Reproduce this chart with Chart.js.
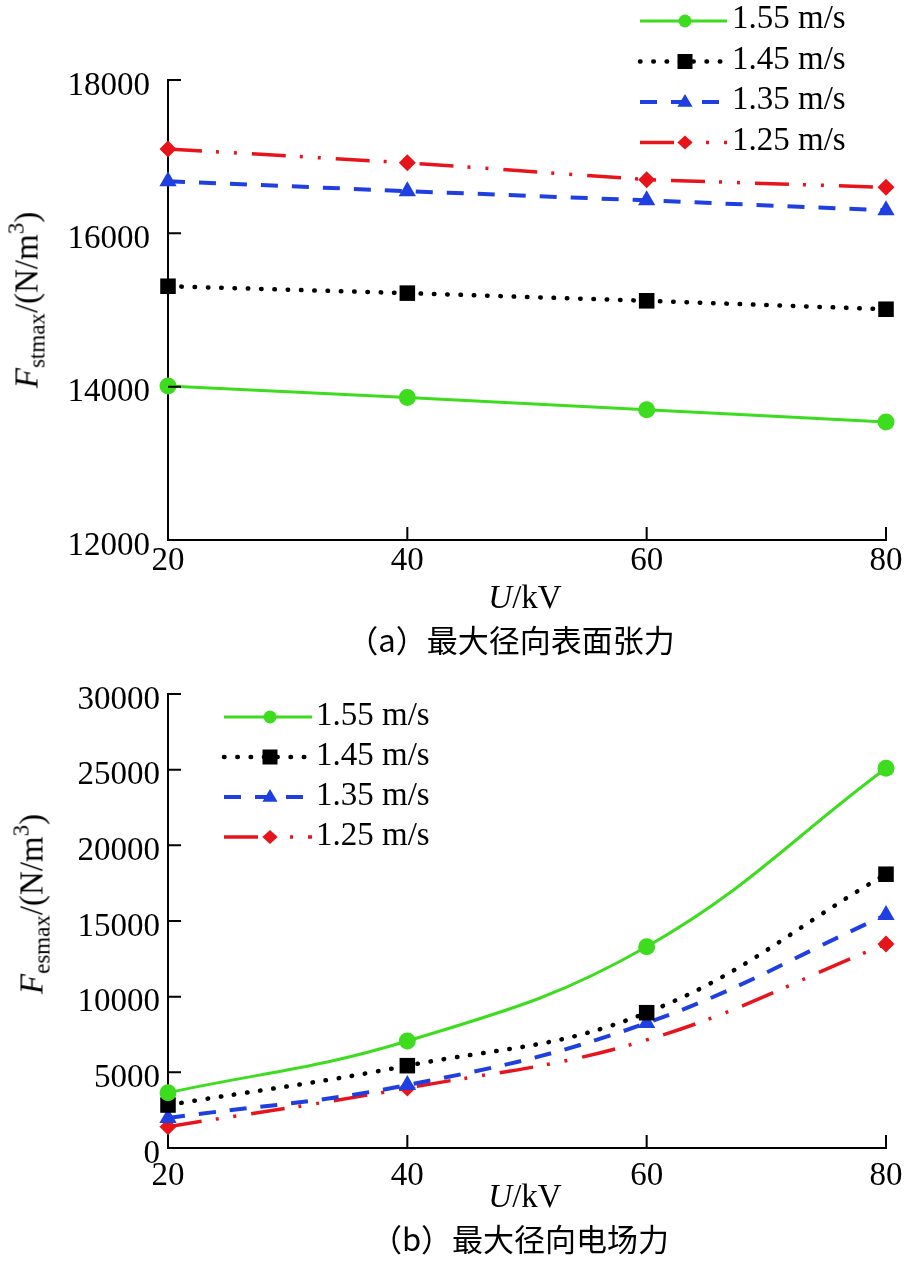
<!DOCTYPE html>
<html><head><meta charset="utf-8">
<script src="https://cdn.jsdelivr.net/npm/chart.js@4"></script>
<style>
html,body{margin:0;padding:0;background:#fff;}
body{width:918px;height:1262px;position:relative;overflow:hidden;font-family:"Liberation Serif",serif;color:#000;}
.c{position:absolute;left:0;width:918px;}
#w1{top:0;height:600px}
#w2{top:640px;height:560px}
.ytitle{position:absolute;transform:translate(-50%,-50%) rotate(-90deg);white-space:nowrap;font-size:33px;line-height:1;}
.xtitle{position:absolute;transform:translate(-50%,-50%);font-size:33px;white-space:nowrap;line-height:1;}
.cap{position:absolute;transform:translate(-50%,-50%);font-size:31px;font-family:"Noto Sans CJK SC",sans-serif;white-space:nowrap;line-height:1;}
.sb{font-size:23px;position:relative;top:7px;}
.sp{font-size:23px;position:relative;top:-14px;}
</style>
</head><body>
<div class="c" id="w1"><canvas id="c1"></canvas></div>
<div class="c" id="w2"><canvas id="c2"></canvas></div>
<div class="ytitle" style="left:27px;top:300px"><i>F</i><span class="sb">stmax</span>/(N/m<span class="sp">3</span>)</div>
<div class="ytitle" style="left:32px;top:904px"><i>F</i><span class="sb">esmax</span>/(N/m<span class="sp">3</span>)</div>
<div class="xtitle" style="left:525px;top:597px"><i>U</i>/kV</div>
<div class="cap" style="left:511px;top:638px">（a）最大径向表面张力</div>
<div class="xtitle" style="left:525px;top:1196px"><i>U</i>/kV</div>
<div class="cap" style="left:520px;top:1237px">（b）最大径向电场力</div>
<script>
// ---- data ----
const voltages = [20, 40, 60, 80];
const seriesLabels = ['1.55 m/s', '1.45 m/s', '1.35 m/s', '1.25 m/s'];
const surf155 = [14010, 13860, 13700, 13540];
const surf145 = [15310, 15220, 15120, 15010];
const surf135 = [16680, 16550, 16430, 16300];
const surf125 = [17100, 16920, 16700, 16600];
const elec155 = [3650, 7070, 13300, 25090];
const elec145 = [2840, 5440, 8940, 18090];
const elec135 = [1980, 4160, 8260, 15400];
const elec125 = [1410, 3960, 7140, 13480];
const surfTicks = [12000, 14000, 16000, 18000];
const elecTicks = [0, 5000, 10000, 15000, 20000, 25000, 30000];
const xTicks = [20, 40, 60, 80];

// ---- styles ----
const styles = [
  {color:'#3ddc1f', dash:[], width:3, cap:'butt', point:'circle', r:8.5, lr:6.5},
  {color:'#000000', dash:[0.5,12.8], width:4.5, cap:'round', point:'rect', r:11, lr:7.5},
  {color:'#1f3fe0', dash:[17,14], width:4, cap:'butt', point:'triangle', r:10, lr:8},
  {color:'#e8141c', dash:[34,14,3,15,3,15], width:3.5, cap:'butt', point:'rectRot', r:8.5, lr:7}
];

function makeDatasets(series, tension, hidden) {
  return series.map((vals, i) => {
    const s = styles[i];
    return {
      label: seriesLabels[i],
      data: voltages.map((v, k) => ({x: v, y: vals[k]})),
      borderColor: s.color, backgroundColor: s.color,
      pointBackgroundColor: s.color, pointBorderColor: s.color,
      borderWidth: s.width, borderDash: s.dash, borderCapStyle: s.cap,
      pointStyle: s.point,
      pointRadius: (hidden && hidden[i]) ? hidden[i].map(h => h ? 0 : s.r) : s.r,
      pointBorderWidth: 0,
      tension: tension, cubicInterpolationMode: 'default',
      clip: false, legendR: s.lr
    };
  });
}

function drawMark(ctx, style, r, x, y) {
  ctx.beginPath();
  if (style === 'circle') ctx.arc(x, y, r, 0, Math.PI * 2);
  else if (style === 'rect') ctx.rect(x - r, y - r, 2 * r, 2 * r);
  else if (style === 'triangle') { ctx.moveTo(x, y - r); ctx.lineTo(x + r * 0.95, y + r * 0.6); ctx.lineTo(x - r * 0.95, y + r * 0.6); ctx.closePath(); }
  else if (style === 'rectRot') { ctx.moveTo(x - r * 1.1, y); ctx.lineTo(x, y - r); ctx.lineTo(x + r * 1.1, y); ctx.lineTo(x, y + r); ctx.closePath(); }
  ctx.fill();
}

const lineLegend = {
  id: 'lineLegend',
  afterDraw(chart, args, o) {
    const {ctx, chartArea: a} = chart;
    const x0 = (o.fromRight ? a.right : a.left) + o.dx;
    const y0 = a.top + o.dy;
    chart.data.datasets.forEach((ds, i) => {
      const y = y0 + i * o.gap;
      ctx.save();
      ctx.strokeStyle = ds.borderColor; ctx.lineWidth = ds.borderWidth;
      ctx.setLineDash(ds.borderDash || []); ctx.lineCap = ds.borderCapStyle || 'butt';
      ctx.beginPath(); ctx.moveTo(x0, y); ctx.lineTo(x0 + o.len, y); ctx.stroke();
      ctx.setLineDash([]);
      ctx.fillStyle = ds.borderColor;
      drawMark(ctx, ds.pointStyle, ds.legendR, x0 + o.mark, y);
      ctx.fillStyle = '#000';
      ctx.font = '33px "Liberation Serif"';
      ctx.textBaseline = 'alphabetic'; ctx.textAlign = 'left';
      ctx.fillText(ds.label, x0 + o.textX, y + o.base);
      ctx.restore();
    });
  }
};

const inwardTicks = {
  id: 'inwardTicks',
  afterDatasetsDraw(chart, args, o) {
    const {ctx, chartArea: a, scales: {x, y}} = chart;
    ctx.save(); ctx.strokeStyle = '#000'; ctx.lineWidth = 2;
    ctx.beginPath();
    x.ticks.forEach(t => { const px = x.getPixelForValue(t.value); ctx.moveTo(px, a.bottom); ctx.lineTo(px, a.bottom - o.len); });
    y.ticks.forEach(t => { const py = y.getPixelForValue(t.value); ctx.moveTo(a.left, py); ctx.lineTo(a.left + o.len, py); });
    ctx.stroke(); ctx.restore();
  }
};

function makeChart(id, datasets, yTicks, cfg) {
  return new Chart(document.getElementById(id), {
    type: 'line',
    data: {datasets},
    plugins: [inwardTicks, lineLegend],
    options: {
      responsive: true, maintainAspectRatio: false, animation: false,
      layout: {padding: {top: cfg.padTop, right: cfg.padRight, left: 0, bottom: 0}},
      plugins: {legend: {display: false}, tooltip: {enabled: false},
        inwardTicks: {len: 13}, lineLegend: cfg.legend},
      scales: {
        x: {
          type: 'linear', min: xTicks[0], max: xTicks[xTicks.length - 1],
          afterBuildTicks: s => { s.ticks = xTicks.map(v => ({value: v})); },
          afterFit: s => { s.height = cfg.xHeight; },
          grid: {display: true, drawOnChartArea: false, drawTicks: false},
          border: {display: true, color: '#000', width: 2},
          ticks: {color: '#000', padding: cfg.xPad, maxRotation: 0, autoSkip: false,
            callback: v => String(v),
            font: {family: 'Liberation Serif', size: 33}}
        },
        y: {
          min: yTicks[0], max: yTicks[yTicks.length - 1],
          afterBuildTicks: s => { s.ticks = yTicks.map(v => ({value: v})); },
          afterFit: s => { s.width = 168; },
          grid: {display: true, drawOnChartArea: false, drawTicks: false},
          border: {display: true, color: '#000', width: 2},
          ticks: {color: '#000', padding: cfg.yPad, labelOffset: 6, autoSkip: false,
            callback: v => String(v),
            font: {family: 'Liberation Serif', size: 33}}
        }
      }
    }
  });
}

makeChart('c1', makeDatasets([surf155, surf145, surf135, surf125], 0), surfTicks,
  {padTop: 80, padRight: 32, xHeight: 60, xPad: 2, yPad: 18,
   legend: {fromRight: true, dx: -246, dy: -59, gap: 40.5, len: 87, mark: 45, textX: 92, base: 7}});

makeChart('c2', makeDatasets([elec155, elec145, elec135, elec125], 0.4, [null, null, null, [false, false, true, false]]), elecTicks,
  {padTop: 54, padRight: 32, xHeight: 52, xPad: 9, yPad: 8,
   legend: {fromRight: false, dx: 56, dy: 23, gap: 40, len: 88, mark: 46, textX: 92, base: 8}});
</script>
</body></html>
